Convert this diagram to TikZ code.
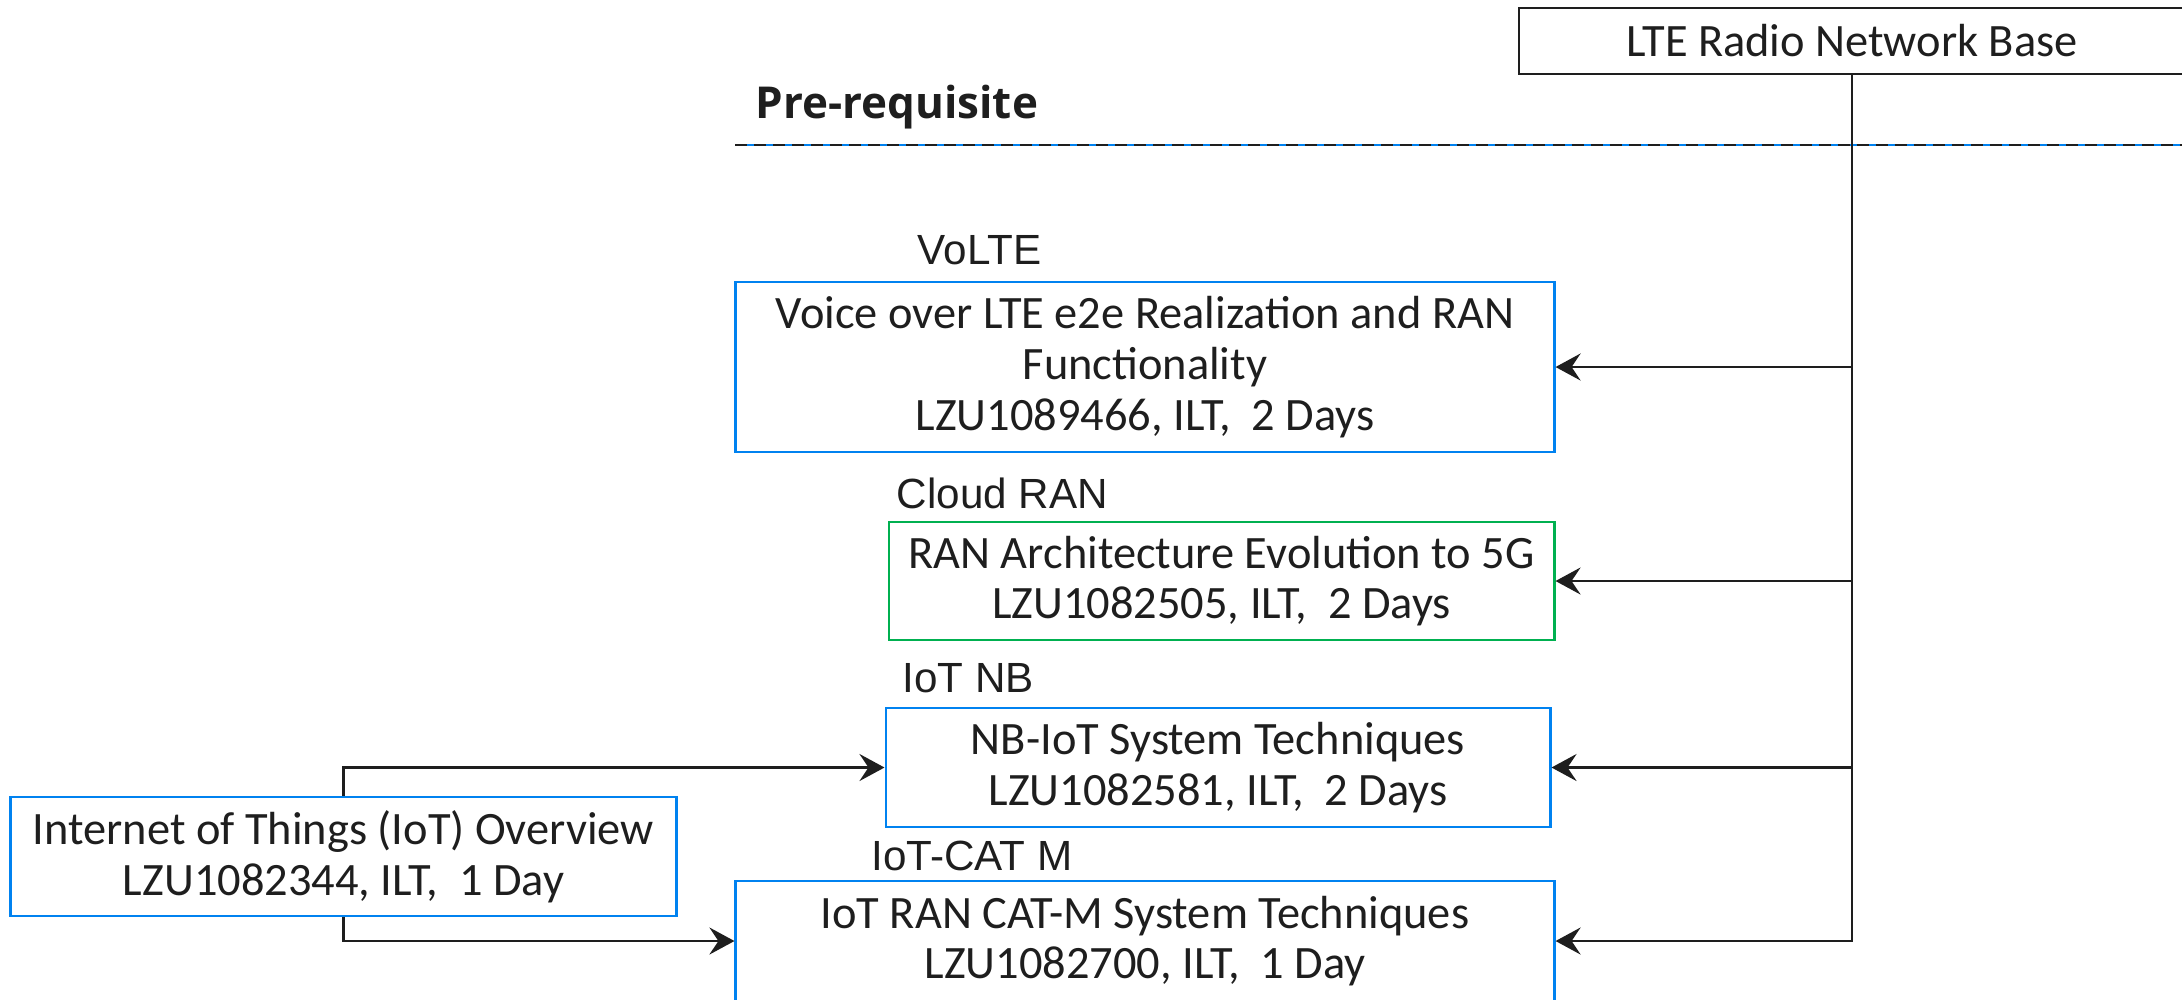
\documentclass[tikz,border=0pt]{standalone}
\usepackage{fontspec}
\setmainfont{Carlito}
\newfontfamily\labelfont{Liberation Sans}
\newfontfamily\headfont{Open Sans}
\usetikzlibrary{positioning,arrows.meta}
\definecolor{kblue}{RGB}{0,130,240}
\definecolor{kgreen}{RGB}{0,176,80}
\definecolor{kdark}{RGB}{30,30,30}

\begin{document}
\begin{tikzpicture} [x=0.01cm, y=-0.01cm, auto,
                    course/.style={rectangle,draw=kblue,line width=0.75pt,align=center,inner sep=0pt,
                                   font=\fontsize{13.2}{14.4}\selectfont,text=kdark},
                    tag/.style={anchor=west,inner sep=0pt,font=\labelfont\fontsize{12}{14}\selectfont,text=kdark},
                    conn/.style={draw=kdark,line width=0.8pt,-{Stealth[length=2.5mm,width=2.7mm,inset=0.9mm]}}]

\useasboundingbox (0,0) rectangle (2182,999);

\node[course,draw=kdark,minimum width=6.66cm,minimum height=0.66cm] (LTE) at (1852,41) {LTE Radio Network Base};

\node[anchor=west,inner sep=0pt,font=\headfont\bfseries\fontsize{12.5}{15}\selectfont,text=kdark] (PRE) at (755,107) {Pre-requisite};
\coordinate (DL) at (735,145);
\coordinate (DR) at (2182,145);
\draw[kblue,line width=0.3pt] (DL) -- (DR);
\draw[kdark,line width=0.7pt,dash pattern=on 0.12cm off 0.07cm] (DL) -- (DR);

\node[course,minimum width=8.18cm,minimum height=1.70cm] (VOLTE) at (1145,367)
    {Voice over LTE e2e Realization and RAN\\Functionality\\LZU1089466, ILT,~ 2 Days};
\node[course,draw=kgreen,minimum width=6.65cm,minimum height=1.18cm] (CRAN) at (1221.5,581)
    {RAN Architecture Evolution to 5G\\LZU1082505, ILT,~ 2 Days};
\node[course,minimum width=6.64cm,minimum height=1.19cm] (NB) at (1218,767.5)
    {NB-IoT System Techniques\\LZU1082581, ILT,~ 2 Days};
\node[course,minimum width=8.18cm,minimum height=1.20cm] (CATM) at (1145,941)
    {IoT RAN CAT-M System Techniques\\LZU1082700, ILT,~ 1 Day};
\node[course,minimum width=6.65cm,minimum height=1.19cm] (IOT) at (343.5,856.5)
    {Internet of Things (IoT) Overview\\LZU1082344, ILT,~ 1 Day};

\node[tag] (VOLTEL) at (917,250) {VoLTE};
\node[tag] (CRANL) at (896,493) {Cloud RAN};
\node[tag] (NBL) at (902,678) {IoT NB};
\node[tag] (CATML) at (871,856) {IoT-CAT M};

\draw[conn] (LTE.south) |- (CATM.east);
\draw[conn] (LTE.south |- VOLTE.east) -- (VOLTE.east);
\draw[conn] (LTE.south |- CRAN.east) -- (CRAN.east);
\draw[conn] (LTE.south |- NB.east) -- (NB.east);
\draw[conn] (IOT.north) |- (NB.west);
\draw[conn] (IOT.south) |- (CATM.west);
\end{tikzpicture}
\end{document}
